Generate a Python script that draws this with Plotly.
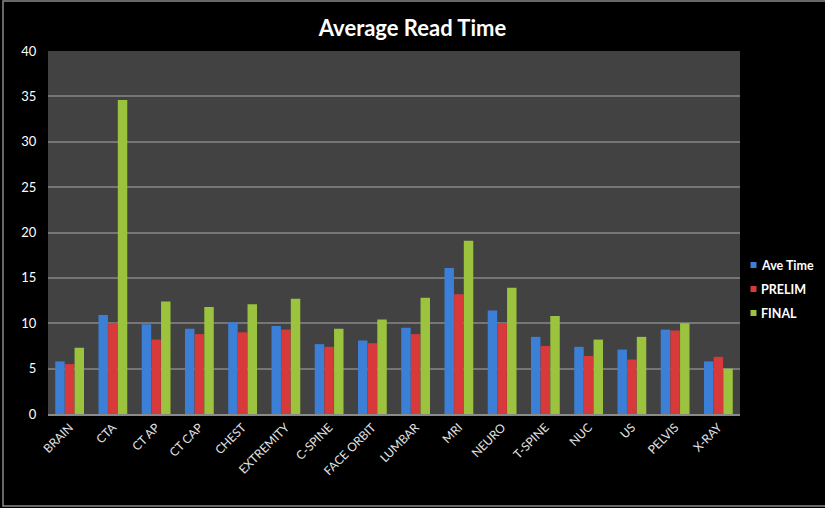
import plotly.graph_objects as go

categories = ["BRAIN", "CTA", "CT AP", "CT CAP", "CHEST", "EXTREMITY", "C-SPINE",
              "FACE ORBIT", "LUMBAR", "MRI", "NEURO", "T-SPINE", "NUC", "US",
              "PELVIS", "X-RAY"]
ave_time = [5.8, 10.9, 9.9, 9.4, 10.1, 9.7, 7.7, 8.1, 9.5, 16.1, 11.4, 8.5, 7.4, 7.1, 9.3, 5.8]
prelim = [5.5, 10.0, 8.2, 8.8, 9.0, 9.3, 7.4, 7.8, 8.8, 13.2, 10.0, 7.5, 6.4, 6.0, 9.2, 6.3]
final = [7.3, 34.6, 12.4, 11.8, 12.1, 12.7, 9.4, 10.4, 12.8, 19.1, 13.9, 10.8, 8.2, 8.5, 10.0, 5.0]
y_ticks = [0, 5, 10, 15, 20, 25, 30, 35, 40]

series = [
    ("Ave Time", ave_time, "#3b7fd6"),
    ("PRELIM", prelim, "#d83a3c"),
    ("FINAL", final, "#9cc33d"),
]

W, H = 825, 508
L, R, T, B = 48, 85, 51, 94
PW, PH = W - L - R, H - T - B


def px_x(x):
    return (x - L) / PW


def px_y(y):
    return (H - B - y) / PH


fig = go.Figure()
for name, vals, color in series:
    fig.add_trace(go.Bar(
        x=categories, y=vals, name=name, showlegend=False,
        marker=dict(color=color, line=dict(width=0)),
    ))

# compact legend to the right of the plot: small square key + bold label
shapes = [
    dict(type="rect", xref="paper", yref="paper",
         x0=px_x(3), x1=px_x(830), y0=px_y(506), y1=px_y(1),
         line=dict(color="#8a8a8a", width=1.5), fillcolor="rgba(0,0,0,0)", layer="below"),
]
annotations = []
for i, (name, _, color) in enumerate(series):
    cy = 265 + 24 * i
    shapes.append(dict(type="rect", xref="paper", yref="paper",
                       x0=px_x(750.5), x1=px_x(756.5), y0=px_y(cy + 3), y1=px_y(cy - 3),
                       line=dict(width=0), fillcolor=color))
    annotations.append(dict(text=f"<b>{name}</b>", xref="paper", yref="paper",
                            x=px_x(759), y=px_y(cy), xanchor="left", yanchor="middle",
                            showarrow=False, font=dict(size=12.5, color="white", family="Lato")))

fig.update_layout(
    width=W, height=H,
    paper_bgcolor="#000000",
    plot_bgcolor="#424242",
    margin=dict(l=L, r=R, t=T, b=B, autoexpand=False),
    barmode="group", bargap=0.33, bargroupgap=0.02,
    font=dict(family="Lato", color="white"),
    title=dict(text="<b>Average Read Time</b>", x=0.5, xref="container", xanchor="center",
               y=1 - 28 / H, yref="container", yanchor="middle",
               font=dict(size=22, color="white", family="Lato")),
    showlegend=False,
    shapes=shapes,
    annotations=annotations,
)

fig.update_xaxes(
    tickangle=-45, tickfont=dict(size=12, color="#e4e4e4", family="Lato"),
    showline=True, linecolor="#8a8a8a", linewidth=1.5, showgrid=False,
    ticks="",
)
fig.update_yaxes(
    range=[0, 40], tickvals=y_ticks,
    tickfont=dict(size=13, color="white", family="Lato"),
    tickprefix="<b>", ticksuffix="</b>",
    showgrid=True, gridcolor="#767676", gridwidth=1.5,
    zeroline=False, showline=False, ticks="outside", ticklen=8, tickcolor="rgba(0,0,0,0)",
)

fig.write_html("out.html")
